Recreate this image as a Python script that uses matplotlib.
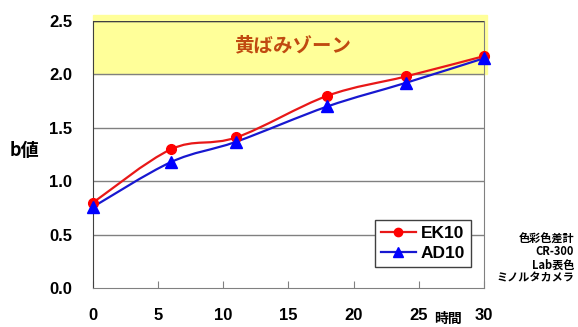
import numpy as np
import matplotlib.pyplot as plt
from matplotlib.path import Path
from matplotlib.patches import PathPatch

plt.rcParams['font.family'] = ['Noto Sans CJK JP', 'DejaVu Sans']

# 時間 vs b値
hours = [0, 6, 11, 18, 24, 30]
ek10 = [0.80, 1.30, 1.41, 1.80, 1.98, 2.17]
ad10 = [0.76, 1.18, 1.37, 1.70, 1.92, 2.15]
zone_low = 2.0
x_ticks = [0, 5, 10, 15, 20, 25, 30]
y_ticks = [0.0, 0.5, 1.0, 1.5, 2.0, 2.5]


def smooth_path(xs, ys):
    # Catmull-Rom style bezier through the data points (like Excel's smoothed line)
    pts = np.column_stack([xs, ys]).astype(float)
    verts = [pts[0]]
    codes = [Path.MOVETO]
    n = len(pts)
    for i in range(n - 1):
        p0 = pts[i - 1] if i > 0 else pts[i]
        p1 = pts[i]
        p2 = pts[i + 1]
        p3 = pts[i + 2] if i + 2 < n else pts[i + 1]
        c1 = p1 + (p2 - p0) / 6.0
        c2 = p2 - (p3 - p1) / 6.0
        verts += [c1, c2, p2]
        codes += [Path.CURVE4] * 3
    return Path(verts, codes)


fig = plt.figure(figsize=(5.78, 3.27), dpi=100)
ax = fig.add_axes([0.161, 0.119, 0.676, 0.817])
ax.set_xlim(0, 30)
ax.set_ylim(0, 2.5)

# yellowing zone band
ax.axhspan(zone_low, 2.56, xmin=0, xmax=1.008, color='#FFFF99', zorder=0, clip_on=False)
ax.text(15.3, 2.27, '黄ばみゾーン', color='#C04A10', fontsize=14, fontweight='bold',
        ha='center', va='center')

for y in y_ticks[1:]:
    ax.axhline(y, color='#808080', lw=1.0, zorder=1)
ax.axhline(2.5, color='#404040', lw=1.0, zorder=1)

ax.add_patch(PathPatch(smooth_path(hours, ek10), fill=False, edgecolor='#E81818', lw=1.6, zorder=3))
ax.add_patch(PathPatch(smooth_path(hours, ad10), fill=False, edgecolor='#1818D0', lw=1.6, zorder=3))
ax.plot(hours, ek10, linestyle='none', marker='o', ms=7, color='#FF0000', zorder=4, clip_on=False)
ax.plot(hours, ad10, linestyle='none', marker='^', ms=8.5, color='#0000FF', zorder=4, clip_on=False)

# legend handles
ax.plot([], [], color='#E81818', lw=1.6, marker='o', ms=6, mfc='#FF0000', mec='#FF0000', label='EK10')
ax.plot([], [], color='#1818D0', lw=1.6, marker='^', ms=7, mfc='#0000FF', mec='#0000FF', label='AD10')
leg = ax.legend(loc='lower right', bbox_to_anchor=(0.99, 0.045), fancybox=False, framealpha=1,
                edgecolor='#404040', prop={'family': 'Liberation Sans', 'weight': 'bold', 'size': 12.5},
                handlelength=2.0, handletextpad=0.3, borderpad=0.35, labelspacing=0.3)
leg.get_frame().set_linewidth(1.0)

ax.spines['top'].set_visible(False)
ax.spines['left'].set_color('#404040')
ax.spines['right'].set_color('#808080')
ax.spines['bottom'].set_color('#808080')

ax.set_xticks(x_ticks)
ax.set_yticks(y_ticks)
ax.set_yticklabels([f'{v:.1f}' for v in y_ticks])
ax.tick_params(axis='x', direction='in', length=5, color='#808080', pad=14)
ax.tick_params(axis='y', length=0, pad=15)
for lab in ax.get_xticklabels() + ax.get_yticklabels():
    lab.set_fontfamily('Liberation Sans')
    lab.set_fontweight('bold')
    lab.set_fontsize(12)

fig.text(0.017, 0.54, 'b値', fontsize=13, fontweight='bold', ha='left', va='center')
fig.text(0.775, 0.025, '時間', fontsize=10, fontweight='bold', ha='center', va='center')
fig.text(0.993, 0.21, '色彩色差計\nCR-300\nLab表色\nミノルタカメラ', fontsize=8, fontweight='bold',
         ha='right', va='center', linespacing=1.0)

fig.savefig('out.png', dpi=100, facecolor='white')
